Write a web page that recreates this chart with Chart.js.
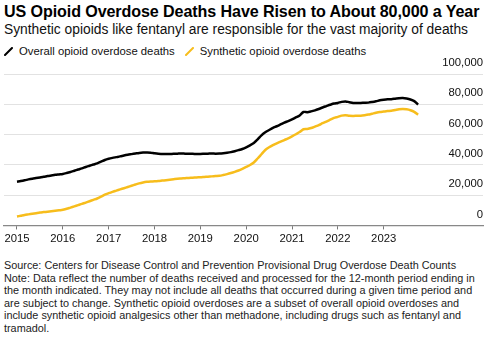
<!DOCTYPE html>
<html>
<head>
<meta charset="utf-8">
<script src="https://cdn.jsdelivr.net/npm/chart.js@4.4.1/dist/chart.umd.min.js"></script>
<style>
  html, body { margin: 0; padding: 0; background: #fff; }
  body { width: 500px; height: 339px; position: relative; overflow: hidden;
         font-family: "Liberation Sans", Arial, Helvetica, sans-serif; color: #000; }
  .t { position: absolute; left: 4px; white-space: nowrap; }
  #title { top: 2px; font-size: 16.1px; font-weight: bold; letter-spacing: -0.1px; }
  #subtitle { top: 22px; font-size: 13.8px; color: #111; }
  #legend { top: 45px; font-size: 11.3px; color: #111; display: flex; align-items: center; }
  #legend .item { display: flex; align-items: center; margin-right: 10px; }
  #legend .swatch { width: 9px; height: 9px; margin-right: 6px; }
  #plot { position: absolute; left: 0; top: 56px; width: 500px; height: 193px; }
  #notes { top: 259px; font-size: 10.85px; line-height: 12.6px; color: #222; white-space: normal; width: 490px; }
</style>
</head>
<body>
<div id="title" class="t">US Opioid Overdose Deaths Have Risen to About 80,000 a Year</div>
<div id="subtitle" class="t">Synthetic opioids like fentanyl are responsible for the vast majority of deaths</div>
<div id="legend" class="t"></div>
<div id="plot"><canvas id="chart"></canvas></div>
<div id="notes" class="t">Source: Centers for Disease Control and Prevention Provisional Drug Overdose Death Counts<br>Note: Data reflect the number of deaths received and processed for the 12-month period ending in<br>the month indicated. They may not include all deaths that occurred during a given time period and<br>are subject to change. Synthetic opioid overdoses are a subset of overall opioid overdoses and<br>include synthetic opioid analgesics other than methadone, including drugs such as fentanyl and<br>tramadol.</div>

<script>
// 12-month rolling totals, one value per month from Jan 2015 to Oct 2023
const yearTicks = ['2015', '2016', '2017', '2018', '2019', '2020', '2021', '2022', '2023'];

const overallDeaths = [
  28900, 29300, 29800, 30400, 30900, 31300, 31700, 32100, 32600, 33000, 33400, 33700, // 2015
  34000, 34600, 35300, 36100, 36900, 37700, 38600, 39400, 40200, 41000, 42100, 43200, // 2016
  44000, 44600, 45100, 45600, 46200, 46700, 47100, 47500, 47900, 48100, 48100, 48000, // 2017
  47600, 47300, 47200, 47100, 47200, 47300, 47400, 47500, 47400, 47300, 47300, 47200, // 2018
  47200, 47300, 47400, 47500, 47400, 47500, 47700, 48000, 48400, 49000, 49700, 50500, // 2019
  51600, 52900, 54400, 56800, 59500, 61500, 63000, 64400, 65500, 66700, 67900, 68900, // 2020
  70000, 71300, 72600, 74900, 74800, 75300, 76000, 76900, 77900, 78800, 79700, 80500, // 2021
  80900, 81600, 81900, 81400, 80900, 80800, 80900, 81000, 81100, 81500, 82000, 82600, // 2022
  83000, 83300, 83400, 83700, 84000, 84100, 83800, 83200, 82100, 79800              // 2023
];

const syntheticDeaths = [
  5900, 6400, 6900, 7300, 7700, 8100, 8500, 8800, 9100, 9400, 9700, 10000,           // 2015
  10300, 11000, 11800, 12600, 13400, 14200, 15100, 16000, 16900, 17800, 19000, 20300, // 2016
  21300, 22200, 23000, 23800, 24600, 25400, 26200, 27000, 27800, 28400, 28800, 29000, // 2017
  29100, 29300, 29600, 29900, 30200, 30500, 30800, 31000, 31200, 31400, 31500, 31700, // 2018
  31800, 32000, 32200, 32400, 32600, 32800, 33300, 33900, 34600, 35400, 36300, 37400, // 2019
  38600, 39900, 41600, 44200, 47000, 49800, 51600, 53000, 54200, 55300, 56400, 57500, // 2020
  58800, 60200, 61700, 63500, 63700, 64300, 65300, 66300, 67500, 68600, 69800, 71000, // 2021
  71700, 72500, 72700, 72400, 72300, 72400, 72500, 72800, 73200, 73800, 74400, 74900, // 2022
  75200, 75500, 75700, 76200, 76700, 76900, 76700, 76100, 75000, 73100              // 2023
];

const seriesNames = ['Overall opioid overdose deaths', 'Synthetic opioid overdose deaths'];
const seriesColors = ['#000000', '#f7bd1c'];

// x is months since January 2015
const toPoints = arr => arr.map((v, i) => ({ x: i, y: v }));

// HTML legend with slanted-line swatches
const legendEl = document.getElementById('legend');
seriesNames.forEach((name, i) => {
  const item = document.createElement('span');
  item.className = 'item';
  item.innerHTML = '<svg class="swatch" viewBox="0 0 9 9"><line x1="1" y1="8" x2="8" y2="1" stroke="' +
    seriesColors[i] + '" stroke-width="2" stroke-linecap="round"/></svg><span>' + name + '</span>';
  legendEl.appendChild(item);
});

const fontFamily = '"Liberation Sans", Arial, Helvetica, sans-serif';

new Chart(document.getElementById('chart'), {
  type: 'line',
  data: {
    datasets: [
      { label: seriesNames[0], data: toPoints(overallDeaths), borderColor: seriesColors[0],
        borderWidth: 2.5, pointRadius: 0, tension: 0.3, fill: false },
      { label: seriesNames[1], data: toPoints(syntheticDeaths), borderColor: seriesColors[1],
        borderWidth: 2.5, pointRadius: 0, tension: 0.3, fill: false }
    ]
  },
  options: {
    responsive: true,
    maintainAspectRatio: false,
    animation: false,
    layout: { padding: { left: 4, right: 17, top: 18, bottom: 0 } },
    plugins: { legend: { display: false }, tooltip: { enabled: false } },
    scales: {
      x: {
        type: 'linear',
        min: -3.4,
        max: 122,
        afterBuildTicks: axis => { axis.ticks = yearTicks.map((_, i) => ({ value: i * 12 })); },
        ticks: {
          autoSkip: false, maxRotation: 0, padding: 3,
          color: '#111', font: { family: fontFamily, size: 11.3 },
          callback: v => yearTicks[Math.round(v / 12)]
        },
        grid: { drawOnChartArea: false, drawTicks: true, tickLength: 4, color: '#777', lineWidth: 1 },
        border: { display: true, color: '#888', width: 1.2 }
      },
      y: {
        position: 'right',
        min: 0,
        max: 100000,
        ticks: {
          stepSize: 20000, mirror: true, padding: 0, labelOffset: -11,
          color: '#111', font: { family: fontFamily, size: 11.3 },
          callback: v => v.toLocaleString('en-US')
        },
        grid: { color: '#e2e2e2', lineWidth: 1, drawTicks: false },
        border: { display: false }
      }
    }
  }
});
</script>
</body>
</html>
